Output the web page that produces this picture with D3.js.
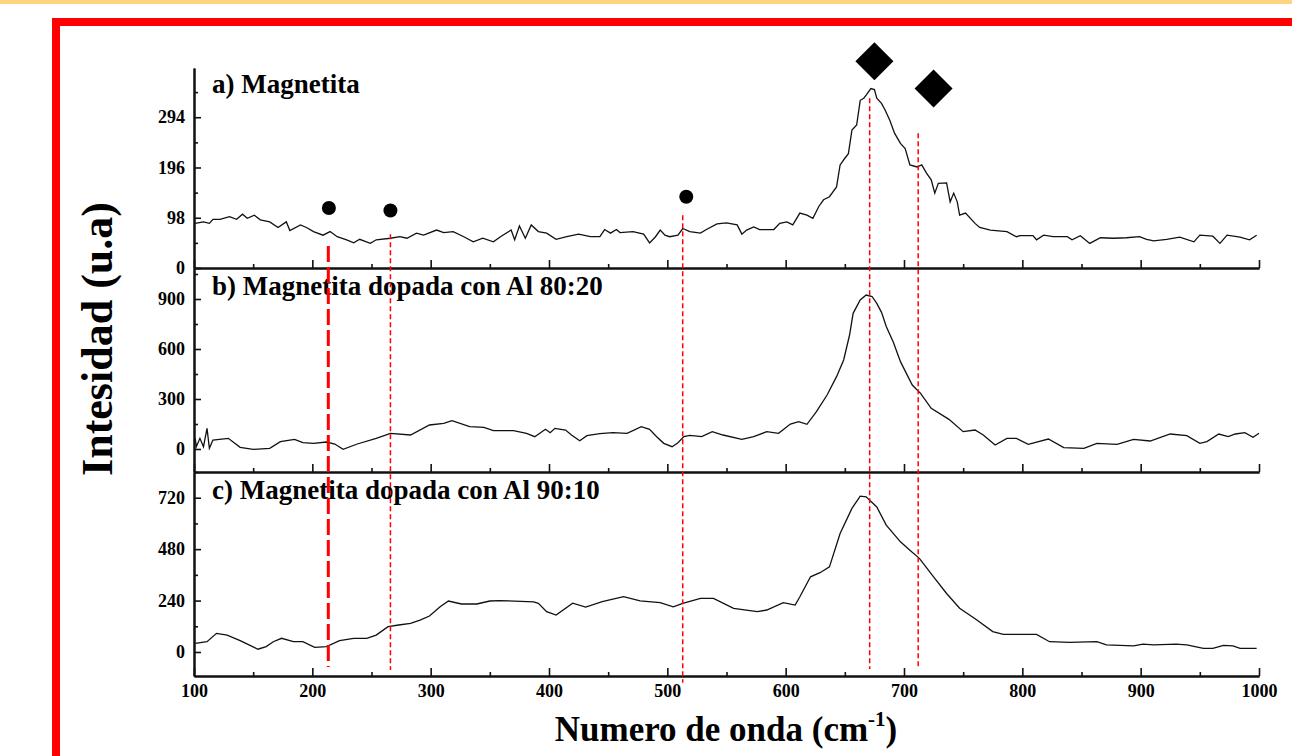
<!DOCTYPE html>
<html>
<head>
<meta charset="utf-8">
<script src="https://cdn.jsdelivr.net/npm/d3@7"></script>
<style>
  body { margin: 0; background: #fff; }
  svg { display: block; }
  text { font-family: "Times New Roman", "Liberation Serif", serif; font-weight: bold; fill: #000; }
</style>
</head>
<body>
<div id="chart"></div>
<script>
// Raman spectra (wavenumber in cm-1, intensity in u.a)
let magnetitaX = [101,108,113,116,122,130,136,141,145,151,156,164,171,178,181,190,195,201,209,215,221,229,235,240,249,254,266,274,280,288,294,305,311,319,328,336,344,353,359,368,371,375,380,385,391,398,406,415,425,435,443,447,452,457,460,471,480,485,490,494,498,502,509,513,519,528,533,542,550,559,563,567,573,578,590,595,601,606,612,618,623,628,632,637,643,646,650,653,656,660,663,666,668,672,675,677,681,684,688,692,697,701,705,711,715,719,723,726,729,736,739,742,745,747,752,760,764,773,787,795,798,809,812,818,826,838,842,849,857,866,877,888,899,905,911,922,933,945,950,961,967,973,984,992,998];
let magnetitaY = [87,90,87,95,95,100,95,105,97,103,94,90,79,90,73,84,79,71,64,71,61,55,49,56,48,55,58,61,58,68,64,74,69,71,61,51,58,51,61,74,55,82,58,84,71,68,56,61,66,61,61,75,68,75,69,71,66,49,61,74,64,61,64,77,71,68,75,86,88,84,66,74,80,75,75,87,90,84,107,103,97,120,133,139,158,201,214,223,269,279,327,331,337,350,348,331,321,308,288,263,243,233,201,197,201,185,172,146,165,166,129,146,129,103,107,87,79,74,71,61,63,63,55,64,61,61,55,63,48,59,58,59,61,56,53,56,60,51,64,62,48,64,60,55,64];

let dopada8020X = [101,102,105,108,111,113,116,129,139,150,164,173,185,192,201,212,219,226,238,254,266,283,299,311,318,333,345,353,370,381,388,397,401,405,414,419,426,432,443,454,466,478,485,491,497,504,509,514,519,529,538,547,563,573,584,594,604,611,618,626,635,643,649,654,657,660,663,668,673,677,681,685,691,697,707,714,723,738,750,760,767,777,787,795,805,822,835,852,863,880,894,908,925,939,950,956,966,974,980,988,995,1000];
let dopada8020Y = [64,14,64,14,124,4,54,64,10,-2,4,44,58,38,34,42,30,-2,30,64,94,84,144,154,170,134,130,110,110,94,74,118,98,124,114,84,50,80,92,98,94,134,118,74,34,14,38,74,82,74,104,84,58,74,104,94,150,164,148,224,324,434,534,684,814,854,894,924,915,874,820,735,640,524,384,334,244,178,104,114,84,24,64,64,28,60,8,4,34,28,58,48,90,80,34,44,90,74,90,98,70,94];

let dopada9010X = [101,111,119,128,139,154,161,167,174,184,192,202,212,223,235,246,254,264,273,283,291,299,308,315,326,339,350,358,387,391,398,406,420,431,445,463,477,494,505,513,528,539,556,576,584,598,608,612,621,629,637,646,656,663,668,677,685,697,705,713,725,736,747,761,775,784,812,823,840,863,871,894,902,911,930,939,953,961,970,978,984,998];
let dopada9010Y = [40,48,87,79,53,13,25,48,64,48,48,22,25,53,64,64,79,118,126,134,149,168,211,238,224,224,238,240,234,227,188,172,228,210,235,258,239,230,211,227,250,250,204,188,196,230,219,258,351,370,397,553,670,727,724,677,592,514,475,437,351,273,204,152,95,82,82,48,45,48,33,29,37,33,37,33,17,17,31,29,17,17];

let panelTitles = ["a) Magnetita", "b) Magnetita dopada con Al 80:20", "c) Magnetita dopada con Al 90:10"];
let panelDomains = [[0, 390], [-138, 1086], [-112, 840]];
let yMajorTicks = [[0, 98, 196, 294], [0, 300, 600, 900], [0, 240, 480, 720]];
let yMinorTicks = [[49, 147, 245, 343], [150, 450, 750, 1050], [120, 360, 600, 840]];
let xMajorTicks = [100, 200, 300, 400, 500, 600, 700, 800, 900, 1000];
let xMinorTicks = [150, 250, 350, 450, 550, 650, 750, 850, 950];

// band markers (wavenumber, intensity on panel a scale)
let circleX = [214, 266, 516];
let circleY = [117, 112, 139];
let diamondX = [675, 725];
let diamondY = [403, 350];

// red guide lines: wavenumber, start (panel a value), end (panel c value)
let guideX = [213.5, 266, 513, 671, 712];
let guideTop = [43, 66, 103, 331, 263];
let guideBottom = [-70, -84, -144, -79, -70];
let guideBold = [true, false, false, false, false];

function main(){
    let width = 1292, height = 756;
    let svg = d3.select("#chart").append("svg")
        .attr("width", width)
        .attr("height", height);

    // slide decoration: top strip and red frame
    svg.append("rect").attr("x", 0).attr("y", 0).attr("width", width).attr("height", 4)
        .attr("fill", "#ffd37f");
    svg.append("rect").attr("x", 56).attr("y", 22).attr("width", 1300).attr("height", 800)
        .attr("fill", "none").attr("stroke", "#ff0000").attr("stroke-width", 8);

    let xScale = d3.scaleLinear().domain([100, 1000]).range([194, 1259]);

    let panelTops = [68, 268, 472];
    let panelBottoms = [268, 472, 676];
    let series = [[magnetitaX, magnetitaY], [dopada8020X, dopada8020Y], [dopada9010X, dopada9010Y]];
    let yScales = [];

    panelDomains.forEach(function(dom, i){
        let yScale = d3.scaleLinear().domain(dom).range([panelBottoms[i], panelTops[i]]);
        yScales.push(yScale);

        // bottom axis, ticks pointing up
        svg.append("g")
            .attr("transform", "translate(0," + panelBottoms[i] + ")")
            .call(d3.axisBottom(xScale).tickValues(xMajorTicks).tickSize(-8).tickSizeOuter(0).tickPadding(8)
                .tickFormat(i == 2 ? d3.format("d") : ""));
        svg.append("g")
            .attr("transform", "translate(0," + panelBottoms[i] + ")")
            .call(d3.axisBottom(xScale).tickValues(xMinorTicks).tickSize(-4).tickSizeOuter(0).tickFormat(""));

        // left axis, ticks pointing right
        svg.append("g")
            .attr("transform", "translate(194,0)")
            .call(d3.axisLeft(yScale).tickValues(yMajorTicks[i]).tickSize(-7).tickSizeOuter(0).tickPadding(9));
        svg.append("g")
            .attr("transform", "translate(194,0)")
            .call(d3.axisLeft(yScale).tickValues(yMinorTicks[i]).tickSize(-4).tickSizeOuter(0).tickFormat(""));

        let pts = series[i][0].map(function(x, j){ return [x, series[i][1][j]]; });
        let line = d3.line()
            .x(function(d){ return xScale(d[0]); })
            .y(function(d){ return yScale(d[1]); });
        svg.append("path")
            .attr("d", line(pts))
            .attr("fill", "none")
            .attr("stroke", "#111")
            .attr("stroke-width", 1.3);

        svg.append("text")
            .attr("x", 212)
            .attr("y", panelTops[i] + (i == 0 ? 25 : 27))
            .attr("font-size", "27px")
            .text(panelTitles[i]);
    });

    svg.selectAll(".domain").attr("stroke", "#111").attr("stroke-width", 2);
    svg.selectAll(".tick line").attr("stroke", "#111").attr("stroke-width", 1.6);
    svg.selectAll(".tick text")
        .attr("font-family", "'Times New Roman', 'Liberation Serif', serif")
        .attr("font-weight", "bold")
        .attr("font-size", "18px")
        .attr("fill", "#000");

    // red dashed guides, from panel a down into panel c
    guideX.forEach(function(g, k){
        svg.append("line")
            .attr("x1", xScale(g)).attr("x2", xScale(g))
            .attr("y1", yScales[0](guideTop[k]))
            .attr("y2", yScales[2](guideBottom[k]))
            .attr("stroke", "#ff0000")
            .attr("stroke-width", guideBold[k] ? 3 : 1.5)
            .attr("stroke-dasharray", guideBold[k] ? "16,5" : "5,3");
    });

    svg.selectAll(".marker-circle")
        .data(circleX)
        .enter()
        .append("circle")
        .attr("cx", function(d){ return xScale(d); })
        .attr("cy", function(d, j){ return yScales[0](circleY[j]); })
        .attr("r", 7)
        .attr("fill", "#000");

    svg.selectAll(".marker-diamond")
        .data(diamondX)
        .enter()
        .append("path")
        .attr("d", d3.symbol().type(d3.symbolSquare).size(723))
        .attr("transform", function(d, j){
            return "translate(" + xScale(d) + "," + yScales[0](diamondY[j]) + ") rotate(45)";
        })
        .attr("fill", "#000");

    // axis titles
    let xt = svg.append("text")
        .attr("x", 726)
        .attr("y", 741)
        .attr("text-anchor", "middle")
        .attr("font-size", "35px");
    xt.append("tspan").text("Numero de onda (cm");
    xt.append("tspan").attr("font-size", "21px").attr("dy", -15).text("-1");
    xt.append("tspan").attr("dy", 15).text(")");

    svg.append("text")
        .attr("transform", "translate(112,339) rotate(-90)")
        .attr("text-anchor", "middle")
        .attr("font-size", "44px")
        .text("Intesidad (u.a)");
}

main();
</script>
</body>
</html>
